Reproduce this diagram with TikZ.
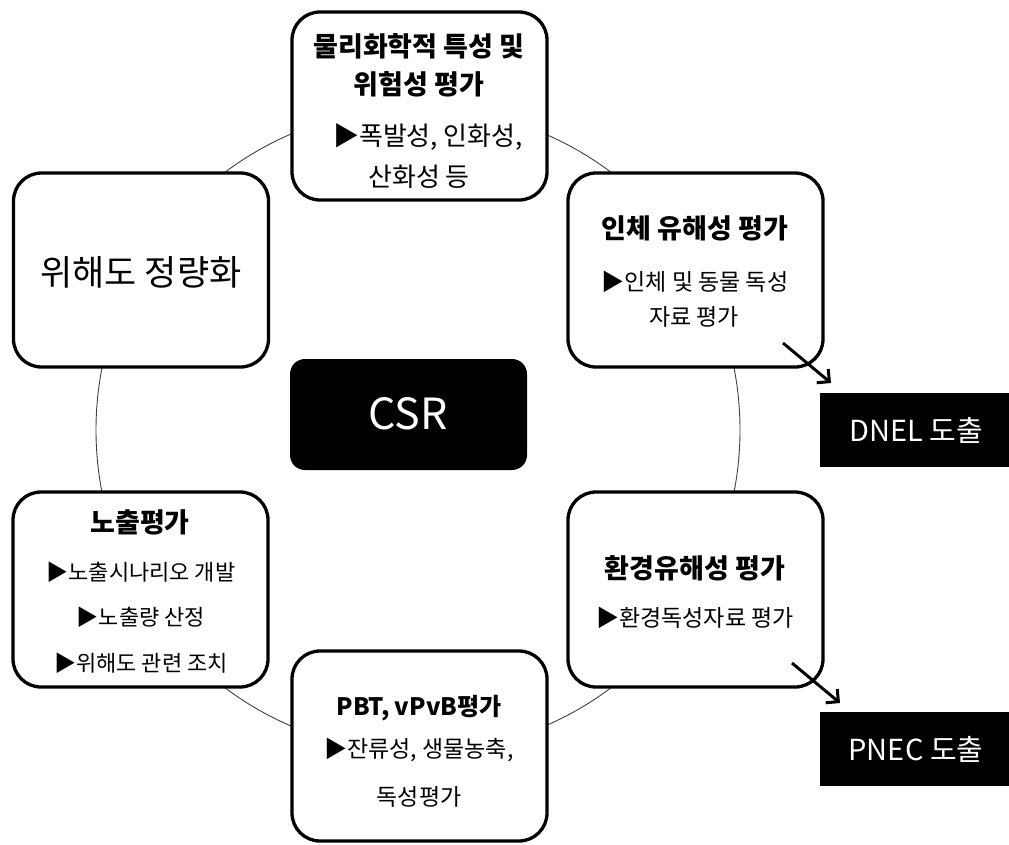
\documentclass[tikz,border=0pt]{standalone}
\usepackage{fontspec}
\setmainfont{Noto Sans CJK KR}
\usetikzlibrary{arrows.meta}
\tikzset{
  rbox/.style={draw, line width=3.3pt, rounded corners=28pt, fill=white, inner sep=0pt, minimum width=255pt},
  blackbox/.style={fill=black, text=white, inner sep=0pt},
  ttl/.style={font=\fontsize{27}{30}\selectfont\bfseries, inner sep=0pt},
  sub/.style={font=\fontsize{23}{26}\selectfont, inner sep=0pt},
  ring/.style={draw=black!75, line width=0.9pt},
  outarrow/.style={line width=3pt, -{Straight Barb[length=9pt,width=18pt,line width=3pt]}}
}
\begin{document}
\begin{tikzpicture}[x=1pt,y=-1pt]
\useasboundingbox (0,0) rectangle (1009,844);
% ring
\coordinate (ctr) at (418,430);
\draw[ring] (ctr) circle[radius=322];
% boxes
\node[rbox, minimum height=188pt] (phys) at (419.5,106) {};
\node[rbox, minimum height=194pt] (human) at (695.5,270) {};
\node[rbox, minimum height=195pt] (env) at (695.5,589.5) {};
\node[rbox, minimum height=190pt] (pbt) at (419.5,746) {};
\node[rbox, minimum height=195pt] (expo) at (140.5,589.5) {};
\node[rbox, minimum height=194pt] (risk) at (141,270) {};
% CSR
\node[blackbox, rounded corners=15pt, minimum width=237pt, minimum height=111pt] (csr) at (408.5,414.5) {};
\node[text=white, font=\fontsize{43}{46}\selectfont, inner sep=0pt] (csrt) at (408,414) {CSR};
% output boxes
\node[blackbox, minimum width=189pt, minimum height=74pt] (dnel) at (914.5,430) {};
\node[text=white, font=\fontsize{29}{32}\selectfont, inner sep=0pt] (dnelt) at (916,430) {DNEL 도출};
\node[blackbox, minimum width=189pt, minimum height=74pt] (pnec) at (914.5,749) {};
\node[text=white, font=\fontsize{29}{32}\selectfont, inner sep=0pt] (pnect) at (916,749) {PNEC 도출};
% texts: phys
\node[ttl] (phys1) at (419,46) {물리화학적 특성 및};
\node[ttl] (phys2) at (419,84) {위험성 평가};
\node[sub, font=\fontsize{26}{28}\selectfont] (phys3) at (428,137) {▶폭발성, 인화성,};
\node[sub, font=\fontsize{26}{28}\selectfont] (phys4) at (419,177) {산화성 등};
% human
\node[ttl] (hum1) at (695,228) {인체 유해성 평가};
\node[sub] (hum2) at (695,282) {▶인체 및 동물 독성};
\node[sub] (hum3) at (694,317) {자료 평가};
% env
\node[ttl] (env1) at (695,568) {환경유해성 평가};
\node[sub] (env2) at (695,618) {▶환경독성자료 평가};
% pbt
\node[font=\fontsize{24}{28}\selectfont\bfseries, inner sep=0pt] (pbt1) at (419,708) {PBT, vPvB평가};
\node[sub] (pbt2) at (419,750) {▶잔류성, 생물농축,};
\node[sub] (pbt3) at (419,797) {독성평가};
% exposure
\node[ttl] (exp1) at (140,522) {노출평가};
\node[sub, font=\fontsize{22}{26}\selectfont] (exp2) at (141,572) {▶노출시나리오 개발};
\node[sub, font=\fontsize{22}{26}\selectfont] (exp3) at (141,617) {▶노출량 산정};
\node[sub, font=\fontsize{22}{26}\selectfont] (exp4) at (141,663) {▶위해도 관련 조치};
% risk
\node[font=\fontsize{35}{38}\selectfont, inner sep=0pt] (riskt) at (141,272) {위해도 정량화};
% arrows
\coordinate (a1) at (783,343);
\coordinate (a1e) at (831,383);
\coordinate (a2) at (792,663);
\coordinate (a2e) at (840,703);
\draw[outarrow] (a1) -- (a1e);
\draw[outarrow] (a2) -- (a2e);
\end{tikzpicture}
\end{document}
